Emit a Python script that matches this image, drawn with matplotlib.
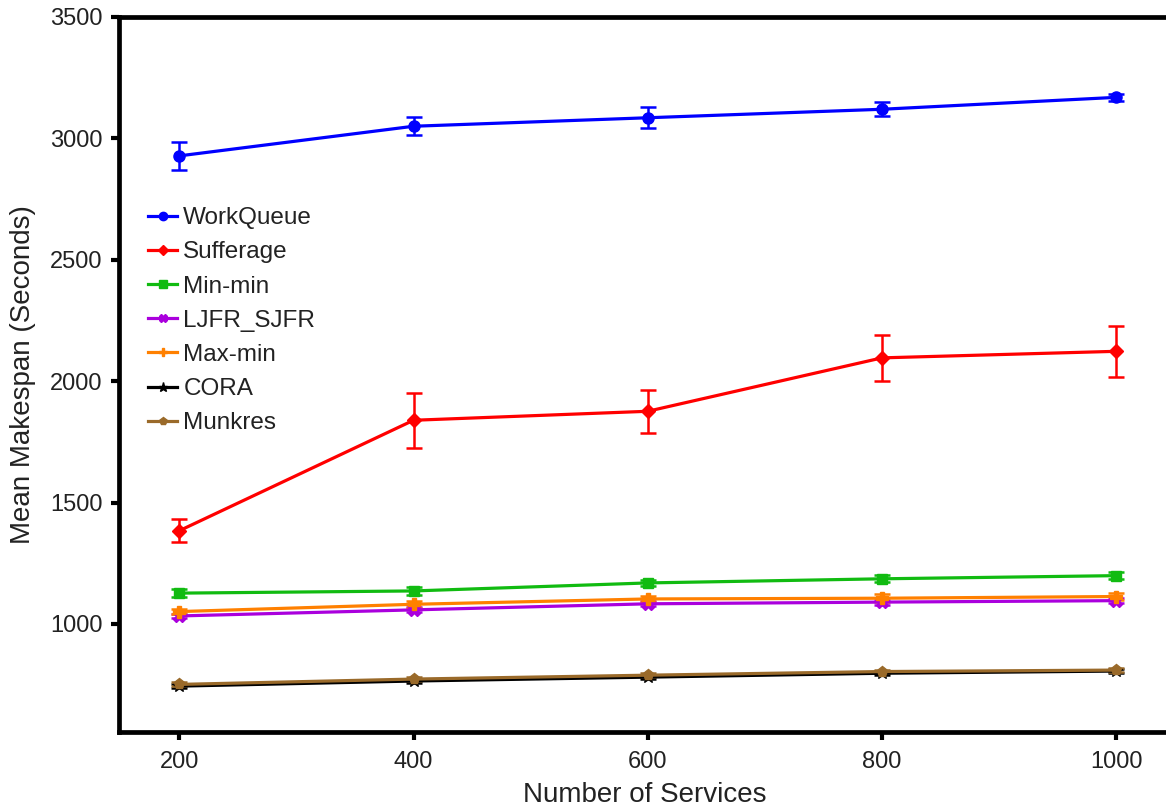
import matplotlib
matplotlib.use("Agg")
import matplotlib.pyplot as plt

plt.rcParams['font.family'] = ['Liberation Sans', 'DejaVu Sans']

services = [200, 400, 600, 800, 1000]

workqueue = [2928, 3050, 3085, 3120, 3169]
workqueue_err = [57, 38, 44, 28, 14]
sufferage = [1384, 1839, 1876, 2096, 2123]
sufferage_err = [47, 114, 88, 95, 106]
minmin = [1127, 1136, 1169, 1186, 1199]
minmin_err = [18, 15, 14, 14, 14]
ljfr_sjfr = [1033, 1058, 1083, 1090, 1096]
ljfr_sjfr_err = [10, 10, 10, 10, 10]
maxmin = [1051, 1081, 1103, 1106, 1113]
maxmin_err = [12, 14, 12, 16, 16]
cora = [744, 765, 781, 797, 806]
cora_err = [8, 8, 8, 8, 8]
munkres = [751, 773, 789, 804, 810]
munkres_err = [8, 8, 8, 8, 8]

series = [
    ("WorkQueue", workqueue, workqueue_err, "#0000FF", "o", 8),
    ("Sufferage", sufferage, sufferage_err, "#FF0000", "D", 7),
    ("Min-min", minmin, minmin_err, "#11BB11", "s", 7),
    ("LJFR_SJFR", ljfr_sjfr, ljfr_sjfr_err, "#AA00DD", "X", 8),
    ("Max-min", maxmin, maxmin_err, "#FF8000", "P", 8),
    ("CORA", cora, cora_err, "#000000", "*", 9),
    ("Munkres", munkres, munkres_err, "#9A6A2A", "p", 8),
]

fig = plt.figure(figsize=(11.66, 8.09), dpi=100)
ax = fig.add_axes([119/1166, 1 - 732/809, (1170 - 119)/1166, (732 - 17)/809])

handles = []
for name, vals, err, col, mk, ms in series:
    c = ax.errorbar(services, vals, yerr=err, color=col, marker=mk, markersize=ms,
                    linewidth=2.3, elinewidth=1.8, capsize=6, capthick=1.8, label=name)
    handles.append(c.lines[0])

ax.set_xlim(148.5, 1046)
ax.set_ylim(555, 3500)
ax.set_xticks(services)
ax.set_yticks([1000, 1500, 2000, 2500, 3000, 3500])

for s in ax.spines.values():
    s.set_linewidth(3.4)
ax.tick_params(direction='out', length=6, width=3, labelsize=17, pad=6, colors='black')
ax.tick_params(axis='x', pad=8)
for lab in ax.get_xticklabels() + ax.get_yticklabels():
    lab.set_color('#222222')

ax.set_xlabel("Number of Services", fontsize=20, color='#222222', labelpad=6)
ax.set_ylabel("Mean Makespan (Seconds)", fontsize=20, color='#222222', labelpad=10)

leg = ax.legend(handles, [s[0] for s in series], loc='upper left',
                bbox_to_anchor=(0.0276, 0.734), borderaxespad=0, borderpad=0,
                frameon=False, fontsize=17.5, handlelength=1.2, handletextpad=0.25,
                labelspacing=0.5, markerscale=0.75)
for t in leg.get_texts():
    t.set_color('#222222')

fig.savefig("out.png", dpi=100)
